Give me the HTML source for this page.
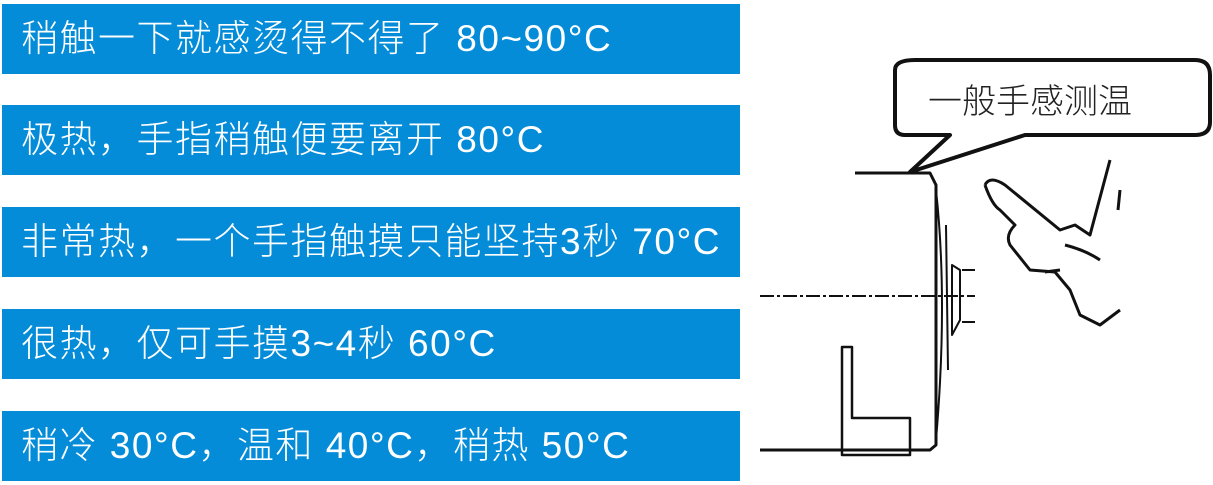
<!DOCTYPE html>
<html><head><meta charset="utf-8"><style>
body{margin:0;width:1213px;height:485px;background:#fff;position:relative;overflow:hidden;font-family:"Liberation Sans","Noto Sans CJK SC",sans-serif}
.b{position:absolute;left:2px;width:738px;height:70px;background:#048cd9;color:#fff;font-size:37px;font-weight:300;line-height:70px;padding-left:19px;box-sizing:border-box;white-space:nowrap;letter-spacing:1.5px}
</style></head><body>
<div class="b" style="top:4px">稍触一下就感烫得不得了 80~90°C</div>
<div class="b" style="top:105px">极热，手指稍触便要离开 80°C</div>
<div class="b" style="top:207px">非常热，一个手指触摸只能坚持3秒 70°C</div>
<div class="b" style="top:309px">很热，仅可手摸3~4秒 60°C</div>
<div class="b" style="top:411px">稍冷 30°C，温和 40°C，稍热 50°C</div>
<svg style="position:absolute;left:0;top:0" width="1213" height="485">
<g fill="none" stroke="#111" stroke-width="3" stroke-linejoin="round">
<path d="M910,172 L950,135 L905,135 Q895,135 895,125 L895,70 Q895,60 915,60 L1195,60 Q1210,60 1210,75 L1210,122 Q1210,135 1195,135 L1025,135 Z" fill="#fff" stroke-width="4"/>
<path d="M855,173 L930,173 L936,185 L936,445 L930,450 L760,450"/>
<path d="M936,190 Q948,300 936,440" stroke-width="2"/>
<path d="M946,225 L948,370 M952,265 L952,335 L960,320 L960,270 Z" stroke-width="2"/>
<path d="M962,270 L975,270 M962,322 L975,322" stroke-width="2"/>
<path d="M760,296 L975,296" stroke-dasharray="14,3,3,3" stroke-width="2"/>
<path d="M842,347 L852,347 L852,418 L910,418 L910,455 L842,455 Z" stroke-width="2.5"/>
<path d="M985,185 Q990,175 1005,185 L1060,230 L1075,225 L1090,235 L1110,160 M985,185 Q992,205 1000,210 L1015,225 Q1005,235 1010,245 L1030,270 L1055,272 L1070,290 L1080,315 L1100,325 L1120,310 M1045,272 L1060,270 M1065,245 Q1085,250 1100,260 M1120,190 L1118,210"/>
</g>
<text x="928" y="113" font-size="34" font-weight="300" fill="#222" font-family="Liberation Sans,Noto Sans CJK SC,sans-serif">一般手感测温</text>
</svg>
</body></html>
